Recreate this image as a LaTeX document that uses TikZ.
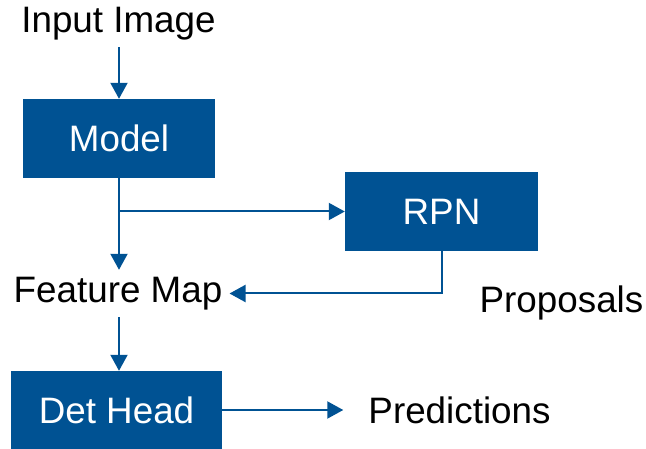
\documentclass[tikz,border=0pt]{standalone}
\usepackage{fontspec}
\setmainfont{Liberation Sans}
\usetikzlibrary{arrows.meta}
\definecolor{boxblue}{RGB}{0,82,147}
\begin{document}
\begin{tikzpicture}[x=1pt,y=-1pt,
  every node/.style={font=\fontsize{36.8}{40}\selectfont},
  label text/.style={text height=26pt,text depth=7pt,inner sep=7pt,anchor=base},
  blockbox/.style={fill=boxblue,text=white,inner sep=0pt},
  flow/.style={draw=boxblue,line width=2pt,-{Triangle[length=16pt,width=17pt]}}]
  \useasboundingbox (0,0) rectangle (646,449);

  % text labels
  \node[label text] (inimg) at (118.5,33) {Input Image};
  \node[label text] (fm) at (118,303) {Feature Map};
  \node[label text] (prop) at (561.5,313) {Proposals};
  \node[label text] (pred) at (459.5,423) {Predictions};

  % blocks
  \node[blockbox,minimum width=192pt,minimum height=79pt] (model) at (119,138.5) {Model};
  \node[blockbox,minimum width=193pt,minimum height=79pt] (rpn) at (441.5,211.5) {RPN};
  \node[blockbox,minimum width=211pt,minimum height=78pt] (dh) at (116.5,410) {Det Head};

  % connectors (the main spine stays on the Model block's axis)
  \draw[flow] (inimg.south -| model.south) -- (model.north);
  \draw[flow] (model.south) -- (model.south |- fm.north);
  \draw[flow] (model.south |- rpn.west) -- (rpn.west);
  \draw[flow] (rpn.south) |- (fm.east);
  \draw[flow] (model.south |- fm.south) -- (model.south |- dh.north);
  \draw[flow,shorten >=18pt] (dh.east) -- (dh.east -| pred.west);
\end{tikzpicture}
\end{document}
